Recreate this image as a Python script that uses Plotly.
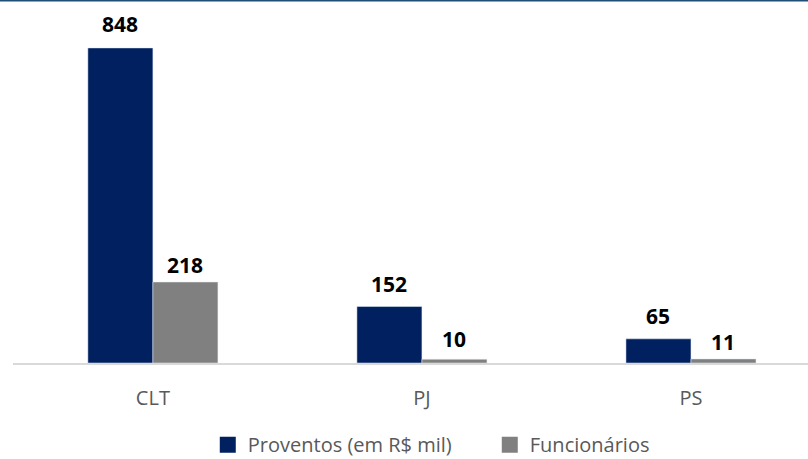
import plotly.graph_objects as go

categories = ["CLT", "PJ", "PS"]
proventos = [848, 152, 65]
funcionarios = [218, 10, 11]

# distance (px) from bar top to label centre, as in the reference
proventos_shift = [24, 23, 23]
funcionarios_shift = [17, 20, 17]

blue = "#002060"
gray = "#808080"
bar_w = 0.2417
font = "Open Sans"

fig = go.Figure()
fig.add_trace(go.Bar(name="Proventos (em R$ mil)", x=categories, y=proventos,
                     marker_color=blue, width=bar_w, offset=-bar_w, showlegend=False))
fig.add_trace(go.Bar(name="Funcionários", x=categories, y=funcionarios,
                     marker_color=gray, width=bar_w, offset=0, showlegend=False))

# legend entries with bigger square swatches
for name, col in (("Proventos (em R$ mil)", blue), ("Funcionários", gray)):
    fig.add_trace(go.Scatter(x=[None], y=[None], mode="markers", name=name,
                             marker=dict(symbol="square", size=16, color=col)))

for i, cat in enumerate(categories):
    for val, shift, dx in ((proventos[i], proventos_shift[i], -bar_w / 2),
                           (funcionarios[i], funcionarios_shift[i], bar_w / 2)):
        fig.add_annotation(x=i + dx, y=val, text=f"<b>{val}</b>", showarrow=False,
                           yanchor="middle", yshift=shift,
                           font=dict(family=font, size=21, color="black"))

fig.add_shape(type="line", xref="paper", yref="paper", x0=-0.02, x1=1.0, y0=1, y1=1,
              line=dict(color="#1f4e79", width=3))

fig.update_layout(
    width=808, height=459,
    margin=dict(l=13, r=0, t=0, b=96, autoexpand=False),
    plot_bgcolor="white", paper_bgcolor="white",
    barmode="group",
    showlegend=True,
    legend=dict(orientation="h", x=0.245, xanchor="left", y=-0.225, yanchor="middle",
                font=dict(family=font, size=20, color="#595959"),
                itemwidth=30, entrywidth=237, traceorder="normal"),
    xaxis=dict(range=[-0.52, 2.435], showline=True, linecolor="#d9d9d9", linewidth=2,
               ticks="", tickfont=dict(family=font, size=20, color="#595959"),
               ticklabelstandoff=16, showgrid=False, automargin=False),
    yaxis=dict(range=[0, 977], visible=False, showgrid=False, automargin=False),
)

fig.write_html("out.html", config={"displayModeBar": False},
               post_script="document.body.style.margin='0';")
